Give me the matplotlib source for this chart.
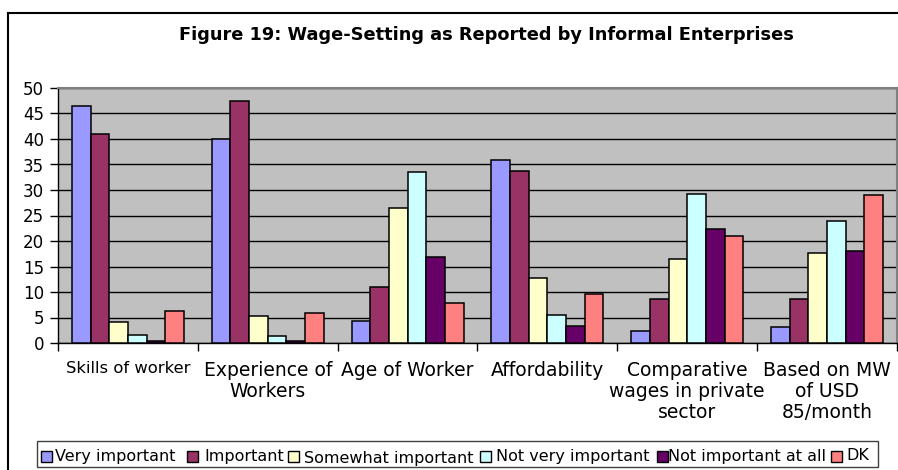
import matplotlib
matplotlib.use("Agg")
import matplotlib.pyplot as plt
import numpy as np
from matplotlib.lines import Line2D
from matplotlib.patches import Rectangle

plt.rcParams['font.family'] = ['DejaVu Sans']

categories = [
    "Skills of worker",
    "Experience of\nWorkers",
    "Age of Worker",
    "Affordability",
    "Comparative\nwages in private\nsector",
    "Based on MW\nof USD\n85/month",
]
series_names = [
    "Very important",
    "Important",
    "Somewhat important",
    "Not very important",
    "Not important at all",
    "DK",
]
very_important = [46.5, 40.0, 4.3, 35.8, 2.4, 3.1]
important = [41.0, 47.5, 11.0, 33.8, 8.7, 8.7]
somewhat_important = [4.1, 5.2, 26.4, 12.8, 16.5, 17.6]
not_very_important = [1.5, 1.3, 33.6, 5.4, 29.3, 24.0]
not_important_at_all = [0.3, 0.3, 16.8, 3.3, 22.3, 18.1]
dk = [6.3, 5.8, 7.8, 9.7, 20.9, 29.1]
yticks = [0, 5, 10, 15, 20, 25, 30, 35, 40, 45, 50]

series = [very_important, important, somewhat_important,
          not_very_important, not_important_at_all, dk]
colors = ["#9999FF", "#993366", "#FFFFCC", "#CCFFFF", "#660066", "#FF8080"]

W, H = 898, 470
fig = plt.figure(figsize=(W / 100, H / 100), dpi=100)
fig.patch.set_facecolor("white")

ax = fig.add_axes([58 / W, 1 - 343 / H, (897 - 58) / W, (343 - 88) / H])
ax.set_facecolor("#C0C0C0")

n = len(series)
bw = 1 / (n + 1.5)
x = np.arange(len(categories))
for i, (vals, c) in enumerate(zip(series, colors)):
    ax.bar(x + (i - (n - 1) / 2) * bw, vals, width=bw, color=c,
           edgecolor="black", linewidth=1.1, zorder=3)

ax.set_xlim(-0.5, len(categories) - 0.5)
ax.set_ylim(0, 50)
ax.set_yticks(yticks)
ax.yaxis.grid(True, color="black", linewidth=1.0, zorder=1)
ax.set_axisbelow(True)
ax.tick_params(axis="y", direction="out", length=6, width=1, pad=4,
               labelsize=12)

ax.set_xticks(x)
ax.set_xticklabels(categories, fontsize=13.5, linespacing=1.12)
ax.get_xticklabels()[0].set_fontsize(11.8)
ax.tick_params(axis="x", which="major", length=0, pad=13)
ax.set_xticks(np.arange(-0.5, len(categories), 1.0), minor=True)
ax.tick_params(axis="x", which="minor", direction="out", length=6, width=1)

for s in ["top", "right"]:
    ax.spines[s].set_color("#808080")
    ax.spines[s].set_linewidth(1.5)
for s in ["left", "bottom"]:
    ax.spines[s].set_color("black")
    ax.spines[s].set_linewidth(1.0)

# Title
fig.text(486 / W, 1 - 40 / H, "Figure 19: Wage-Setting as Reported by Informal Enterprises",
         ha="center", va="baseline", fontsize=12.8, fontweight="bold")

# Outer chart border
fig.add_artist(Line2D([7.5 / W, 1.0], [1 - 12.5 / H, 1 - 12.5 / H],
                      transform=fig.transFigure, color="black", linewidth=1.5))
fig.add_artist(Line2D([7.5 / W, 7.5 / W], [1 - 12.5 / H, 0],
                      transform=fig.transFigure, color="black", linewidth=1.5))

# Legend box
fig.add_artist(Rectangle((37 / W, 1 - 467 / H), (878 - 37) / W, (467 - 441) / H,
                         transform=fig.transFigure, facecolor="white",
                         edgecolor="#404040", linewidth=1.0))
marker_x = [41, 187, 288, 480, 657, 831]
text_x = [55, 204, 304, 496, 668, 846]
text_dy = [0, 0, 2.5, 0, 0, 0]
for mx, tx, dy, name, c in zip(marker_x, text_x, text_dy, series_names, colors):
    fig.add_artist(Rectangle((mx / W, 1 - 462 / H), 11 / W, 11 / H,
                             transform=fig.transFigure, facecolor=c,
                             edgecolor="black", linewidth=1.0))
    fig.text(tx / W, 1 - (456 + dy) / H, name, ha="left", va="center",
             fontsize=11.5)

fig.savefig("out.png", dpi=100)
